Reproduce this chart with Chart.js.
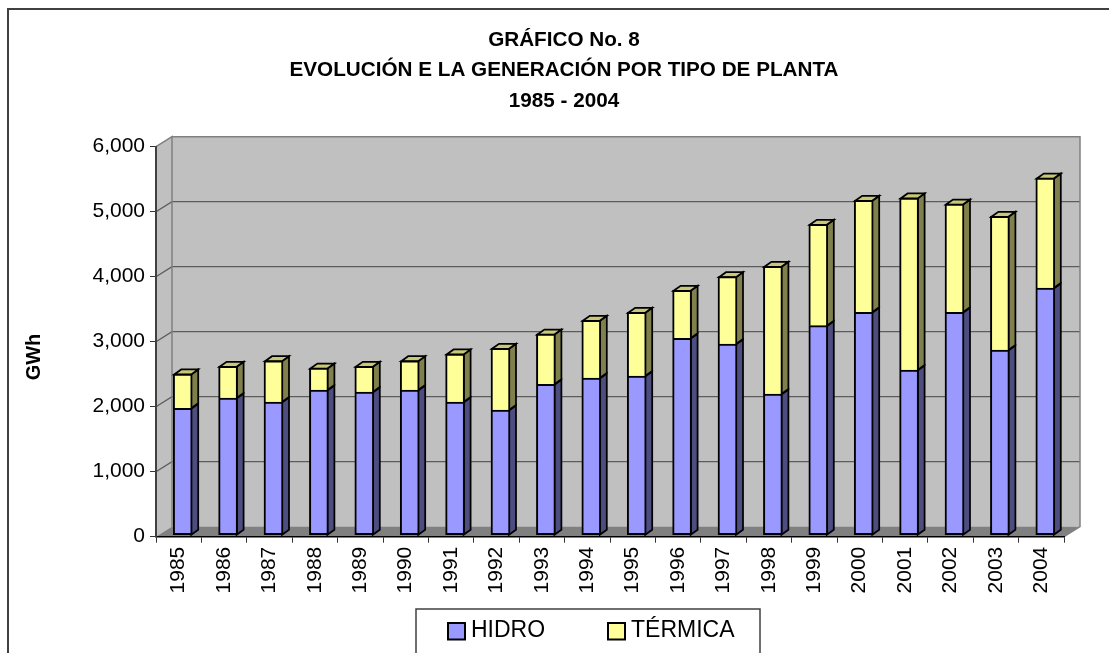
<!DOCTYPE html>
<html lang="es">
<head>
    <meta charset="UTF-8">
    <title>Generación por tipo de planta</title>
    <script src="https://cdn.jsdelivr.net/npm/chart.js"></script>
    <style>
        html, body { margin: 0; padding: 0; background: #fff; overflow: hidden; }
        #wrap { width: 1109px; height: 653px; }
    </style>
</head>
<body>
    <div id="wrap"><canvas id="chart" width="1109" height="653"></canvas></div>
    <script>
        const years = ['1985','1986','1987','1988','1989','1990','1991','1992','1993','1994','1995','1996','1997','1998','1999','2000','2001','2002','2003','2004'];
        const hidro = [1952,2111,2049,2234,2203,2234,2049,1926,2321,2418,2449,3029,2941,2172,3223,3429,2541,3429,2849,3803];
        const termica = [528,487,635,338,395,450,739,949,774,888,980,739,1036,1965,1560,1723,2647,1666,2057,1692];
        const titleLines = ['GRÁFICO No. 8', 'EVOLUCIÓN E LA GENERACIÓN POR TIPO DE PLANTA', '1985 - 2004'];

        const FONT = '"Liberation Sans", Arial, sans-serif';
        // depth of the fake 3D box and of the bars inside it
        const WALL_DX = 16, WALL_DY = 10;
        const BAR_DX = 4, BAR_DY = 1.5;
        const SIDE_DX = 7, SIDE_DY = 5;

        const box3d = {
            id: 'box3d',
            afterLayout(chart) {
                // title is centred over the plot + frame, not the canvas
                chart.titleBlock.left = 19;
                chart.titleBlock.right = 1109;
            },
            beforeDraw(chart) {
                const { ctx, chartArea: a, scales: { y } } = chart;
                ctx.save();
                // outer frame: left and top only, the rest is cut off in the picture
                ctx.strokeStyle = '#404040';
                ctx.lineWidth = 2;
                ctx.beginPath();
                ctx.moveTo(8, 653);
                ctx.lineTo(8, 9);
                ctx.lineTo(1109, 9);
                ctx.stroke();

                // walls
                ctx.fillStyle = '#c0c0c0';
                ctx.beginPath();
                ctx.moveTo(a.left, a.top);
                ctx.lineTo(a.left + WALL_DX, a.top - WALL_DY);
                ctx.lineTo(a.right + WALL_DX, a.top - WALL_DY);
                ctx.lineTo(a.right + WALL_DX, a.bottom - WALL_DY);
                ctx.lineTo(a.left, a.bottom);
                ctx.closePath();
                ctx.fill();

                // floor
                ctx.fillStyle = '#808080';
                ctx.beginPath();
                ctx.moveTo(a.left, a.bottom);
                ctx.lineTo(a.left + WALL_DX, a.bottom - WALL_DY);
                ctx.lineTo(a.right + WALL_DX, a.bottom - WALL_DY);
                ctx.lineTo(a.right, a.bottom);
                ctx.closePath();
                ctx.fill();

                // gridlines on the walls
                ctx.strokeStyle = '#5c5c5c';
                ctx.lineWidth = 1.3;
                y.ticks.forEach(t => {
                    if (t.value === 0 || t.value === 6000) return;
                    const py = y.getPixelForValue(t.value);
                    ctx.beginPath();
                    ctx.moveTo(a.left, py);
                    ctx.lineTo(a.left + WALL_DX, py - WALL_DY);
                    ctx.lineTo(a.right + WALL_DX, py - WALL_DY);
                    ctx.stroke();
                });

                // wall edges
                ctx.strokeStyle = '#808080';
                ctx.lineWidth = 1.5;
                ctx.beginPath();
                ctx.moveTo(a.left, a.top);
                ctx.lineTo(a.left + WALL_DX, a.top - WALL_DY);
                ctx.lineTo(a.left + WALL_DX, a.bottom - WALL_DY);
                ctx.moveTo(a.left + WALL_DX, a.top - WALL_DY);
                ctx.lineTo(a.right + WALL_DX, a.top - WALL_DY);
                ctx.lineTo(a.right + WALL_DX, a.bottom - WALL_DY);
                ctx.lineTo(a.right, a.bottom);
                ctx.stroke();
                ctx.restore();
            },
            beforeDatasetsDraw(chart) {
                const { ctx } = chart;
                ctx.save();
                ctx.translate(BAR_DX, -BAR_DY);
                ctx.strokeStyle = '#000';
                ctx.lineWidth = 1.75;
                ctx.lineJoin = 'miter';
                chart.data.datasets.forEach((ds, i) => {
                    chart.getDatasetMeta(i).data.forEach(bar => {
                        const r = bar.x + bar.width / 2, l = bar.x - bar.width / 2;
                        ctx.fillStyle = ds.sideColor;
                        ctx.beginPath();
                        ctx.moveTo(r - 1, bar.y + 0.5);
                        ctx.lineTo(r - 1 + SIDE_DX, bar.y + 0.5 - SIDE_DY);
                        ctx.lineTo(r - 1 + SIDE_DX, bar.base - SIDE_DY);
                        ctx.lineTo(r - 1, bar.base);
                        ctx.closePath();
                        ctx.fill();
                        ctx.stroke();
                        if (i === chart.data.datasets.length - 1) {
                            ctx.fillStyle = ds.capColor;
                            ctx.beginPath();
                            ctx.moveTo(l + 1, bar.y + 0.5);
                            ctx.lineTo(l + 1 + SIDE_DX, bar.y + 0.5 - SIDE_DY);
                            ctx.lineTo(r - 1 + SIDE_DX, bar.y + 0.5 - SIDE_DY);
                            ctx.lineTo(r - 1, bar.y + 0.5);
                            ctx.closePath();
                            ctx.fill();
                            ctx.stroke();
                        }
                    });
                });
            },
            afterDatasetsDraw(chart) {
                chart.ctx.restore();
            },
            afterDraw(chart) {
                const { ctx } = chart;
                ctx.save();
                // y axis title
                ctx.fillStyle = '#000';
                ctx.font = 'bold 20px ' + FONT;
                ctx.textAlign = 'center';
                ctx.textBaseline = 'middle';
                ctx.translate(34, 357);
                ctx.rotate(-Math.PI / 2);
                ctx.fillText('GWh', 0, 0);
                ctx.restore();

                // legend box, cut by the bottom of the picture
                ctx.save();
                ctx.strokeStyle = '#404040';
                ctx.lineWidth = 1.5;
                ctx.fillStyle = '#fff';
                ctx.fillRect(416, 609, 344, 60);
                ctx.strokeRect(416, 609, 344, 60);
                ctx.font = '23px ' + FONT;
                ctx.textBaseline = 'alphabetic';
                ctx.textAlign = 'left';
                const swatchX = [448, 608];
                chart.data.datasets.forEach((ds, i) => {
                    ctx.fillStyle = ds.backgroundColor;
                    ctx.strokeStyle = '#000';
                    ctx.lineWidth = 2;
                    ctx.fillRect(swatchX[i], 623, 17, 16.5);
                    ctx.strokeRect(swatchX[i], 623, 17, 16.5);
                    ctx.fillStyle = '#000';
                    ctx.fillText(ds.label, swatchX[i] + 23, 637);
                });
                ctx.restore();
            }
        };

        new Chart(document.getElementById('chart'), {
            type: 'bar',
            data: {
                labels: years,
                datasets: [
                    { label: 'HIDRO', data: hidro, backgroundColor: '#9999ff', sideColor: '#4d4d80', borderColor: '#000', borderWidth: 2, borderSkipped: false, barThickness: 19, clip: false },
                    { label: 'TÉRMICA', data: termica, backgroundColor: '#ffff99', sideColor: '#80804d', capColor: '#c8c878', borderColor: '#000', borderWidth: 2, barThickness: 19, clip: false }
                ]
            },
            plugins: [box3d],
            options: {
                responsive: false,
                animation: false,
                locale: 'en-US',
                layout: { padding: { left: 0, right: 45, top: 0, bottom: 0 } },
                plugins: {
                    legend: { display: false },
                    tooltip: { enabled: false },
                    title: {
                        display: true,
                        text: titleLines,
                        color: '#000',
                        font: { family: FONT, size: 20.7, weight: 'bold', lineHeight: 1.473 },
                        padding: { top: 24.8, bottom: 30.4 }
                    }
                },
                scales: {
                    x: {
                        stacked: true,
                        afterFit(s) { s.height = 116.3; },
                        border: { color: '#000', width: 1.5 },
                        grid: { offset: true, drawOnChartArea: false, tickLength: 6, color: '#333', tickWidth: 1 },
                        ticks: { color: '#000', font: { family: FONT, size: 21 }, minRotation: 90, maxRotation: 90, padding: 4, autoSkip: false }
                    },
                    y: {
                        stacked: true,
                        min: 0,
                        max: 6000,
                        afterFit(s) { s.width = 156; },
                        border: { color: '#404040', width: 2 },
                        grid: { drawOnChartArea: false, tickLength: 6, color: '#333', tickWidth: 1 },
                        ticks: { stepSize: 1000, color: '#000', font: { family: FONT, size: 21 }, padding: 5 }
                    }
                }
            }
        });
    </script>
</body>
</html>
